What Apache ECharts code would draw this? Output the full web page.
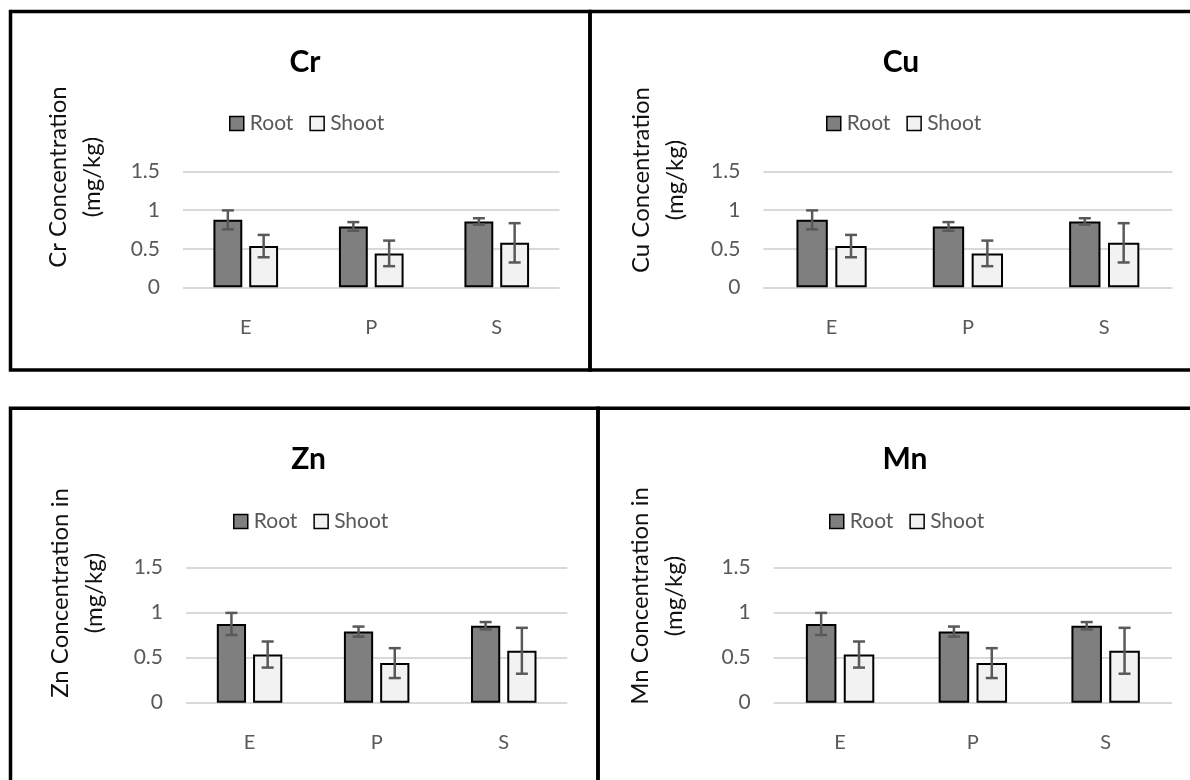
<!DOCTYPE html>
<html>
<head>
<meta charset="utf-8">
<script src="https://cdn.jsdelivr.net/npm/echarts@6/dist/echarts.min.js"></script>
<style>
html,body{margin:0;padding:0;background:#fff;}
#main{width:1190px;height:780px;}
</style>
</head>
<body>
<div id="main"></div>
<script>
// ---- data ----
const categories = ['E', 'P', 'S'];
const seriesNames = ['Root', 'Shoot'];
const panelTitles = ['Cr', 'Cu', 'Zn', 'Mn'];
const yAxisTitles = [
  ['Cr Concentration', '(mg/kg)'],
  ['Cu Concentration', '(mg/kg)'],
  ['Zn Concentration in', '(mg/kg)'],
  ['Mn Concentration in', '(mg/kg)']
];
const rootValues = [0.875, 0.79, 0.855];
const shootValues = [0.535, 0.44, 0.577];
const rootErr = [0.123, 0.056, 0.041];
const shootErr = [0.145, 0.166, 0.255];
const yTicks = [0, 0.5, 1, 1.5];

// ---- layout (pixels) ----
const panels = [
  {grid:{left:183, top:171.7, width:376.5, height:115.6}, title:[300, 42], legend:[224, 108], ytitle:[75.5, 177]},
  {grid:{left:763.4, top:171.7, width:409, height:115.6}, title:[896, 42], legend:[821, 108], ytitle:[658.5, 180]},
  {grid:{left:186, top:567.7, width:381.3, height:135}, title:[303.5, 439], legend:[228, 506], ytitle:[77.5, 593]},
  {grid:{left:773.7, top:567.7, width:398.3, height:135}, title:[900, 439], legend:[824, 506], ytitle:[657.5, 596]}
];

const FONT = 'Lato, "Open Sans", sans-serif';
const BW = 0.23, GAP = 0.24;

function errRender(sign) {
  return function (params, api) {
    const i = api.value(0), v = api.value(1), e = api.value(2);
    const band = api.size([1, 0])[0];
    const off = sign * band * BW * (1 + GAP) / 2;
    const t = api.coord([i, v + e]);
    const b = api.coord([i, v - e]);
    const x = t[0] + off, cap = 6;
    const style = {stroke: '#595959', lineWidth: 2.5};
    return {type: 'group', children: [
      {type: 'line', shape: {x1: x, y1: t[1], x2: x, y2: b[1]}, style},
      {type: 'line', shape: {x1: x - cap, y1: t[1], x2: x + cap, y2: t[1]}, style},
      {type: 'line', shape: {x1: x - cap, y1: b[1], x2: x + cap, y2: b[1]}, style}
    ]};
  };
}

const option = {
  animation: false,
  backgroundColor: '#fff',
  title: [], legend: [], grid: [], xAxis: [], yAxis: [], series: [], graphic: []
};

panels.forEach((p, k) => {
  option.grid.push(p.grid);
  option.title.push({
    text: panelTitles[k], left: p.title[0], top: p.title[1], textAlign: 'center',
    textStyle: {fontFamily: FONT, fontWeight: 'bold', fontSize: 30, color: '#000'}
  });
  option.legend.push({
    left: p.legend[0], top: p.legend[1], data: seriesNames, icon: 'rect',
    itemWidth: 14, itemHeight: 14, itemGap: 16, selectedMode: false,
    itemStyle: {borderColor: '#000', borderWidth: 1.5},
    textStyle: {fontFamily: FONT, fontSize: 21, color: '#595959', padding: [0, 0, 0, 1]}
  });
  option.xAxis.push({
    type: 'category', gridIndex: k, data: categories,
    axisLine: {show: false}, axisTick: {show: false},
    axisLabel: {fontFamily: FONT, fontSize: 20, color: '#595959', margin: 30}
  });
  option.yAxis.push({
    type: 'value', gridIndex: k, min: yTicks[0], max: yTicks[yTicks.length - 1], interval: 0.5,
    axisLine: {show: false}, axisTick: {show: false},
    axisLabel: {fontFamily: FONT, fontSize: 21, color: '#595959', margin: 23},
    splitLine: {lineStyle: {color: '#d9d9d9', width: 2}}
  });
  option.series.push({
    name: 'Root', type: 'bar', xAxisIndex: k, yAxisIndex: k, data: rootValues,
    barWidth: (BW * 100) + '%', barGap: (GAP * 100) + '%',
    itemStyle: {color: '#7f7f7f', borderColor: '#000', borderWidth: 2}
  });
  option.series.push({
    name: 'Shoot', type: 'bar', xAxisIndex: k, yAxisIndex: k, data: shootValues,
    barWidth: (BW * 100) + '%', barGap: (GAP * 100) + '%',
    itemStyle: {color: '#f2f2f2', borderColor: '#000', borderWidth: 2}
  });
  option.series.push({
    name: 'Root error', type: 'custom', xAxisIndex: k, yAxisIndex: k, z: 5,
    renderItem: errRender(-1), encode: {x: 0, y: 1},
    data: categories.map((c, i) => [i, rootValues[i], rootErr[i]])
  });
  option.series.push({
    name: 'Shoot error', type: 'custom', xAxisIndex: k, yAxisIndex: k, z: 5,
    renderItem: errRender(1), encode: {x: 0, y: 1},
    data: categories.map((c, i) => [i, shootValues[i], shootErr[i]])
  });
  option.graphic.push({
    type: 'text', x: p.ytitle[0], y: p.ytitle[1], rotation: Math.PI / 2,
    style: {text: yAxisTitles[k].join('\n'), fontFamily: FONT, fontSize: 24, lineHeight: 34,
      fill: '#111', align: 'center', verticalAlign: 'middle'}
  });
});

// panel borders
const borders = [
  {x: 10.5, y: 11.5, width: 579.5, height: 358.5},
  {x: 590, y: 11.5, width: 620, height: 358.5},
  {x: 10.5, y: 408.3, width: 587.5, height: 400},
  {x: 598, y: 408.3, width: 620, height: 400}
];
borders.forEach(r => option.graphic.push({
  type: 'rect', shape: r, silent: true, z: 100,
  style: {fill: 'none', stroke: '#000', lineWidth: 3.5}
}));

const chart = echarts.init(document.getElementById('main'), null, {renderer: 'canvas'});
chart.setOption(option);
</script>
</body>
</html>
